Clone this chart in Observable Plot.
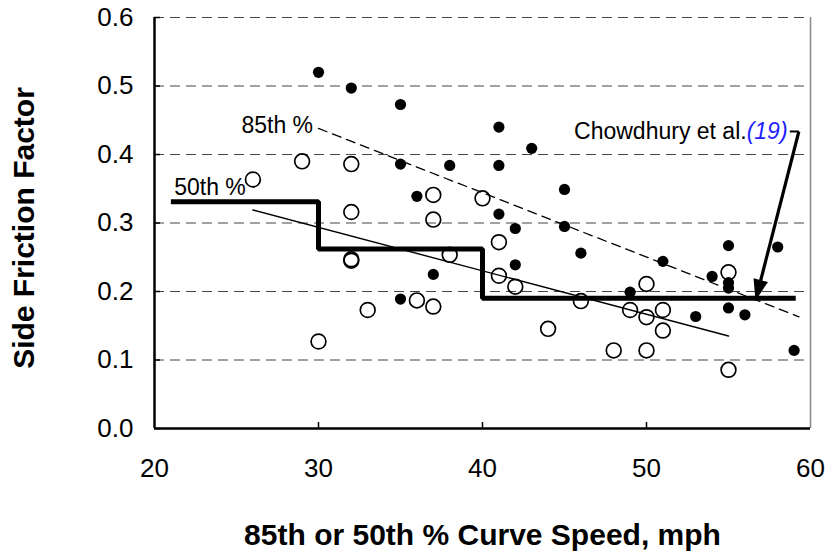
<!DOCTYPE html>
<html>
<head>
<meta charset="utf-8">
<script src="https://cdn.jsdelivr.net/npm/d3@7"></script>
<script src="https://cdn.jsdelivr.net/npm/@observablehq/plot@0.6"></script>
<style>
  html, body { margin: 0; padding: 0; background: #fff; }
  #chart { width: 825px; height: 552px; }
</style>
</head>
<body>
<div id="chart"></div>
<script>
// ---- data ----
const xTicks = [20, 30, 40, 50, 60];
const yTicks = [0.0, 0.1, 0.2, 0.3, 0.4, 0.5, 0.6];
const innerXTicks = [30, 40, 50];

// 85th percentile speed observations (filled dots)
const speed85 = [30, 32, 35, 35, 38, 36, 41, 43, 41, 45, 41, 42, 45, 46, 42, 37, 35, 49, 51, 55, 58, 54, 55, 55, 55, 56, 53, 59];
const friction85 = [0.520, 0.497, 0.473, 0.386, 0.384, 0.339, 0.440, 0.409, 0.384, 0.349, 0.313, 0.292, 0.295, 0.256, 0.239, 0.225, 0.189, 0.199, 0.244, 0.267, 0.265, 0.222, 0.213, 0.205, 0.176, 0.166, 0.1635, 0.114];

// 50th percentile speed observations (open circles)
const speed50 = [26, 29, 32, 37, 32, 37, 40, 32, 32, 38, 36, 37, 33, 30, 41, 41, 42, 46, 44, 50, 55, 49, 50, 51, 51, 48, 50, 55];
const friction50 = [0.3635, 0.390, 0.386, 0.341, 0.316, 0.305, 0.336, 0.247, 0.245, 0.2535, 0.187, 0.178, 0.173, 0.127, 0.272, 0.223, 0.207, 0.186, 0.1455, 0.211, 0.228, 0.173, 0.1625, 0.173, 0.143, 0.114, 0.114, 0.0857];

// trend lines
const trend85X = [30, 59.3];
const trend85Y = [0.438, 0.163];
const trend50X = [26, 55];
const trend50Y = [0.319, 0.135];

// Chowdhury et al. step criterion
const stepX = [21, 30, 40, 59.1];
const stepY = [0.331, 0.262, 0.19, 0.19];

// annotations
const lineLabels = ["85th %", "50th %"];
const lineLabelX = [25.3, 21.2];
const lineLabelY = [0.442, 0.352];
const annoText = "Chowdhury et al.";
const annoRef = "(19)";
const annoX = 58.6, annoY = 0.4336;
const leaderX = [58.74, 59.29];
const arrowStart = [59.29, 0.4336];
const arrowTip = [56.65, 0.187];

const xLabel = "85th or 50th % Curve Speed, mph";
const yLabel = "Side Friction Factor";

// ---- tables ----
const pts85 = speed85.map((s, i) => ({x: s, y: friction85[i]}));
const pts50 = speed50.map((s, i) => ({x: s, y: friction50[i]}));
const line85 = trend85X.map((x, i) => ({x, y: trend85Y[i]}));
const line50 = trend50X.map((x, i) => ({x, y: trend50Y[i]}));
const steps = stepX.map((x, i) => ({x, y: stepY[i]}));
const labels = lineLabels.map((t, i) => ({t, x: lineLabelX[i], y: lineLabelY[i]}));

// arrow head symbol: tip at origin, pointing up
const headSymbol = {
  draw(ctx) {
    ctx.moveTo(0, 0);
    ctx.lineTo(7.5, 21);
    ctx.lineTo(-7.5, 21);
    ctx.closePath();
  }
};
const angle = 180 + Math.atan2(43.3, 169) * 180 / Math.PI;

const font = "'Liberation Sans', Arial, Helvetica, sans-serif";
const W = 825, H = 552, ML = 154, MR = 15, MT = 17, MB = 124;
const frameW = W - ML - MR, frameH = H - MT - MB;

const chart = Plot.plot({
  width: W,
  height: H,
  marginLeft: ML,
  marginRight: MR,
  marginTop: MT,
  marginBottom: MB,
  x: {domain: [20, 60]},
  y: {domain: [0, 0.6]},
  style: {fontFamily: font, fontSize: "26px", background: "#fff", color: "#000"},
  marks: [
    Plot.ruleY(yTicks.filter(d => d > 0), {y: d => d, stroke: "#444", strokeDasharray: "10,6", strokeWidth: 1}),
    Plot.ruleX([60], {x: d => d, stroke: "#888", strokeWidth: 1.5}),
    Plot.axisY(yTicks, {tickSize: 0, tickPadding: 21, tickFormat: d3.format(".1f"), label: null, fontSize: 26}),
    Plot.axisX(xTicks, {tickSize: 0, tickPadding: 30, tickFormat: d3.format("d"), label: null, fontSize: 26}),
    // inward tick marks
    Plot.tickY(yTicks, {y: d => d, stroke: "#000", strokeWidth: 1.5, insetRight: frameW - 6}),
    Plot.tickX(innerXTicks, {x: d => d, stroke: "#000", strokeWidth: 1.5, insetTop: frameH - 6}),
    Plot.ruleX([20], {x: d => d, stroke: "#000", strokeWidth: 2.5}),
    Plot.ruleY([0], {y: d => d, stroke: "#000", strokeWidth: 2.5}),
    // trend lines
    Plot.line(line85, {x: "x", y: "y", stroke: "#000", strokeWidth: 1.3, strokeDasharray: "9,6"}),
    Plot.line(line50, {x: "x", y: "y", stroke: "#000", strokeWidth: 1.4}),
    Plot.line(steps, {x: "x", y: "y", curve: "step-after", stroke: "#000", strokeWidth: 5, strokeLinejoin: "miter", strokeLinecap: "butt"}),
    // points
    Plot.dot(pts85, {x: "x", y: "y", r: 5.6, fill: "#000", stroke: "none"}),
    Plot.dot(pts50, {x: "x", y: "y", r: 7.4, fill: "none", stroke: "#000", strokeWidth: 1.7}),
    // labels
    Plot.text(labels, {x: "x", y: "y", text: "t", textAnchor: "start", fontSize: 23, fill: "#000"}),
    Plot.text([annoText + annoRef], {x: () => annoX, y: () => annoY, textAnchor: "end", fontSize: 23, fill: "#000"}),
    Plot.link([0], {x1: () => leaderX[0], x2: () => leaderX[1], y1: () => annoY, y2: () => annoY, stroke: "#000", strokeWidth: 2}),
    Plot.link([0], {x1: () => arrowStart[0], y1: () => arrowStart[1], x2: () => arrowTip[0], y2: () => arrowTip[1], stroke: "#000", strokeWidth: 3.2}),
    Plot.dot([0], {x: () => arrowTip[0], y: () => arrowTip[1], symbol: headSymbol, r: 5, fill: "#000", stroke: "none", rotate: angle}),
    // axis titles
    Plot.text([yLabel], {frameAnchor: "left", dx: -130, dy: 5, rotate: -90, textAnchor: "middle", lineAnchor: "middle", fontSize: 30, fontWeight: "bold", fill: "#000"}),
    Plot.text([xLabel], {frameAnchor: "bottom", dy: 107, textAnchor: "middle", lineAnchor: "middle", fontSize: 30, fontWeight: "bold", fill: "#000"})
  ]
});

// split annotation into black text + blue italic reference
const anno = [...chart.querySelectorAll("text")].find(e => e.textContent === annoText + annoRef);
if (anno) {
  anno.textContent = "";
  const ns = "http://www.w3.org/2000/svg";
  const t1 = document.createElementNS(ns, "tspan");
  t1.textContent = annoText;
  const t2 = document.createElementNS(ns, "tspan");
  t2.textContent = annoRef;
  t2.setAttribute("fill", "#1f1fff");
  t2.setAttribute("font-style", "italic");
  anno.appendChild(t1);
  anno.appendChild(t2);
}

document.getElementById("chart").appendChild(chart);
</script>
</body>
</html>
